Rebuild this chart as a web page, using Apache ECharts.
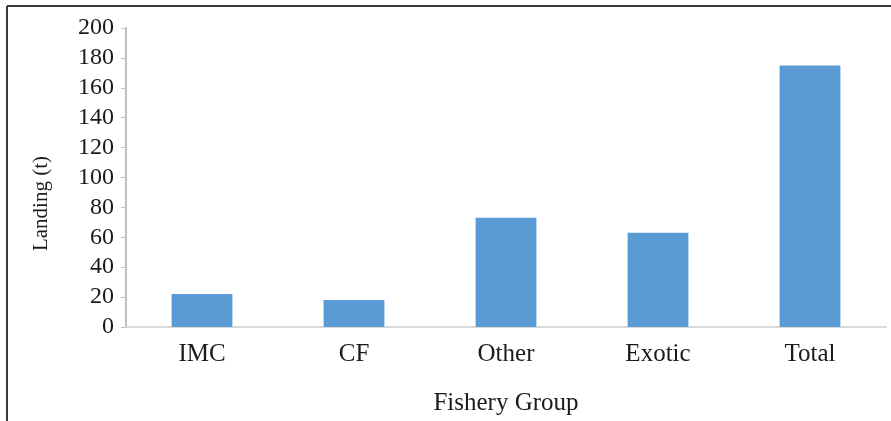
<!DOCTYPE html>
<html>
<head>
<meta charset="utf-8">
<script src="https://cdn.jsdelivr.net/npm/echarts@6/dist/echarts.min.js"></script>
<style>
html,body{margin:0;padding:0;background:#fff;}
#c{width:891px;height:421px;}
</style>
</head>
<body>
<div id="c"></div>
<script>
const categories = ['IMC', 'CF', 'Other', 'Exotic', 'Total'];
const landing = [22, 18, 73, 63, 175];
const yTitle = 'Landing (t)';
const xTitle = 'Fishery Group';

const FONT = '"Liberation Serif", "Times New Roman", serif';
const chart = echarts.init(document.getElementById('c'));
chart.setOption({
  animation: false,
  backgroundColor: '#ffffff',
  grid: {left: 126, right: 5, top: 28, bottom: 93, containLabel: false},
  graphic: [
    {type: 'line', shape: {x1: 7, y1: 6, x2: 891, y2: 6}, style: {stroke: '#3a3a3a', lineWidth: 2}},
    {type: 'line', shape: {x1: 7, y1: 6, x2: 7, y2: 421}, style: {stroke: '#3a3a3a', lineWidth: 2}}
  ],
  xAxis: {
    type: 'category',
    data: categories,
    name: xTitle,
    nameLocation: 'middle',
    nameGap: 64,
    nameTextStyle: {fontFamily: FONT, fontSize: 25, color: '#1a1a1a'},
    axisLine: {lineStyle: {color: '#d9d9d9', width: 2}},
    axisTick: {show: false},
    axisLabel: {fontFamily: FONT, fontSize: 25, color: '#1a1a1a', margin: 15}
  },
  yAxis: {
    type: 'value',
    min: 0, max: 200, interval: 20,
    name: yTitle,
    nameLocation: 'middle',
    nameGap: 74,
    nameRotate: 90,
    nameTextStyle: {fontFamily: FONT, fontSize: 21, color: '#1a1a1a', padding: [0, 52, 0, 0]},
    axisLine: {show: true, lineStyle: {color: '#bfbfbf', width: 2}},
    axisTick: {show: true, length: 5, lineStyle: {color: '#bfbfbf'}},
    splitLine: {show: false},
    axisLabel: {fontFamily: FONT, fontSize: 24, color: '#1a1a1a', margin: 12}
  },
  series: [{
    type: 'bar',
    data: landing,
    barWidth: '40%',
    itemStyle: {color: '#5b9bd5'}
  }]
});
</script>
</body>
</html>
